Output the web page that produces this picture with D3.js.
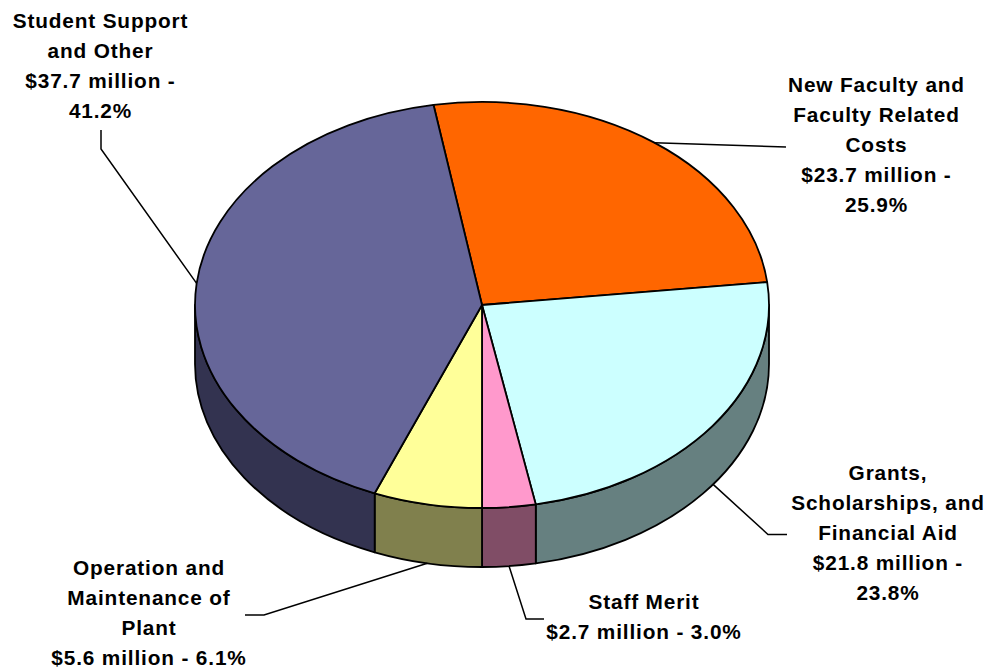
<!DOCTYPE html>
<html><head><meta charset="utf-8">
<script src="https://cdn.jsdelivr.net/npm/d3@7"></script>
<style>html,body{margin:0;padding:0;background:#fff}svg{display:block}
text{font-family:"Liberation Sans",Arial,sans-serif;font-weight:700;font-size:20.8px;letter-spacing:0.85px;fill:#000;text-anchor:middle}</style>
</head><body><svg id="c" width="992" height="669"></svg>
<script>
const categories = ["New Faculty and Faculty Related Costs","Grants, Scholarships, and Financial Aid","Staff Merit","Operation and Maintenance of Plant","Student Support and Other"];
const shares = [25.9,23.8,3.0,6.1,41.2];
const topColors = ["#ff6600","#ccffff","#ff99cc","#ffff99","#666699"];
const sideColors = ["#803300","#668080","#804d66","#80804d","#333350"];
const labelLines = [
  ["New Faculty and","Faculty Related","Costs","$23.7 million -","25.9%"],
  ["Grants,","Scholarships, and","Financial Aid","$21.8 million -","23.8%"],
  ["Staff Merit","$2.7 million - 3.0%"],
  ["Operation and","Maintenance of","Plant","$5.6 million - 6.1%"],
  ["Student Support","and Other","$37.7 million -","41.2%"]
];
const labelCentre = [[876.5,91.5],[888,480],[644,608.5],[149,575],[100.5,27.5]];
const leaderBends = [[[786,147]],[[768,534.5],[787,534.5]],[[526,619],[544,619]],[[264,615],[245,615]],[[101,149],[101,130]]];
const startDeg = -9.72, cx = 482, cy = 305, rx = 287, ry = 203, depth = 59, lh = 30;

const svg = d3.select("#c");
const arcs = d3.pie().sort(null).startAngle(startDeg*Math.PI/180).endAngle((startDeg+360)*Math.PI/180)(shares);
const X = d3.scaleLinear().domain([-1,1]).range([cx-rx,cx+rx]);
const Y = d3.scaleLinear().domain([-1,1]).range([cy-ry,cy+ry]);
const px = a => X(Math.sin(a));
const py = a => Y(-Math.cos(a));
const seg = (a,b,dy,sweep) => `A${rx},${ry} 0 ${Math.abs(b-a)>Math.PI?1:0} ${sweep} ${px(b)},${py(b)+dy}`;

// side wall, visible only for the lower half of the ellipse
const lo = Math.PI/2, hi = 3*Math.PI/2;
arcs.forEach((d,i)=>{
  const a = Math.max(d.startAngle,lo), b = Math.min(d.endAngle,hi);
  if (b<=a) return;
  svg.append("path")
    .attr("d",`M${px(a)},${py(a)}`+seg(a,b,0,1)+`L${px(b)},${py(b)+depth}`+seg(b,a,depth,0)+"Z")
    .attr("fill",sideColors[i]).attr("stroke","#000").attr("stroke-width",1.8).attr("stroke-linejoin","round");
});
// top faces
arcs.forEach((d,i)=>{
  svg.append("path")
    .attr("d",`M${cx},${cy}L${px(d.startAngle)},${py(d.startAngle)}`+seg(d.startAngle,d.endAngle,0,1)+"Z")
    .attr("fill",topColors[i]).attr("stroke","#000").attr("stroke-width",1.8).attr("stroke-linejoin","round");
});
// leaders
const line = d3.line();
arcs.forEach((d,i)=>{
  const m = (d.startAngle+d.endAngle)/2;
  const onFront = Math.cos(m) < -0.2;
  const start = [px(m),py(m)+(onFront?depth:0)];
  svg.append("path").attr("d",line([start,...leaderBends[i]]))
    .attr("fill","none").attr("stroke","#000").attr("stroke-width",1.5);
});
// labels
labelLines.forEach((ls,i)=>{
  const t = svg.append("text");
  ls.forEach((s,k)=>t.append("tspan").attr("x",labelCentre[i][0]).attr("y",labelCentre[i][1]+k*lh).text(s));
});
</script></body></html>
